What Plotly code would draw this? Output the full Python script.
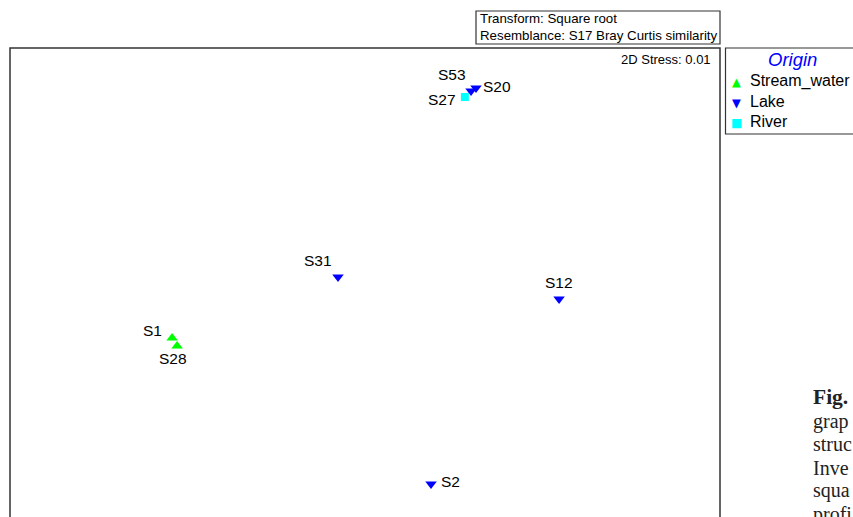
import plotly.graph_objects as go

# NMDS coordinates (arbitrary units)
samples = ["S1", "S28", "S27", "S53", "S20", "S31", "S12", "S2"]
origin = ["Stream_water", "Stream_water", "River", "Lake", "Lake", "Lake", "Lake", "Lake"]
nmds_x = [-0.815, -0.794, 0.422, 0.448, 0.469, -0.114, 0.820, 0.279]
nmds_y = [-0.025, -0.059, 0.993, 1.018, 1.031, 0.233, 0.140, -0.642]
# label offsets in pixels (dx, dy up)
label_dx = [-20, -4, -23, -19, 21, -20, 0, 19]
label_dy = [8, -12, -2, 17, 2, 16, 16, 3]

groups = ["Stream_water", "Lake", "River"]
group_symbol = {"Stream_water": "triangle-up", "Lake": "triangle-down", "River": "square"}
group_glyph = {"Stream_water": "▲", "Lake": "▼", "River": "■"}
group_color = {"Stream_water": "#00FF00", "Lake": "#0000FF", "River": "#00FFFF"}
group_size = {"Stream_water": 10, "Lake": 10, "River": 8}

caption_lines = ["<b>Fig.</b>", "grap", "struc", "Inve", "squa", "profi"]

W, H = 853, 517
ML, MR, MT, MB = 10, 133, 48, 0
PW, PH = W - ML - MR, H - MT - MB

def px(xp):
    return (xp - ML) / PW

def py(yp):
    return (H - MB - yp) / PH

FONT = "Liberation Sans, Arial, sans-serif"

fig = go.Figure()
for g in groups:
    idx = [i for i, o in enumerate(origin) if o == g]
    fig.add_trace(go.Scatter(
        x=[nmds_x[i] for i in idx], y=[nmds_y[i] for i in idx],
        mode="markers", name=g,
        marker=dict(symbol=group_symbol[g], color=group_color[g], size=group_size[g],
                    line=dict(width=0)),
        cliponaxis=False,
    ))

annotations = []
for s, x, y, dx, dy in zip(samples, nmds_x, nmds_y, label_dx, label_dy):
    annotations.append(dict(x=x, y=y, xref="x", yref="y", text=s, showarrow=False,
                            xshift=dx, yshift=dy, font=dict(family=FONT, size=15.5, color="black")))

annotations.append(dict(x=px(713), y=py(60), xref="paper", yref="paper", text="2D Stress: 0.01",
                        showarrow=False, xanchor="right", yanchor="middle",
                        font=dict(family=FONT, size=13, color="black")))
annotations.append(dict(x=px(478), y=py(18.5), xref="paper", yref="paper", text="Transform: Square root",
                        showarrow=False, xanchor="left", yanchor="middle",
                        font=dict(family=FONT, size=13.3, color="black")))
annotations.append(dict(x=px(478), y=py(35), xref="paper", yref="paper",
                        text="Resemblance: S17 Bray Curtis similarity",
                        showarrow=False, xanchor="left", yanchor="middle",
                        font=dict(family=FONT, size=13.3, color="black")))

# manual legend
annotations.append(dict(x=px(792), y=py(60), xref="paper", yref="paper", text="<i>Origin</i>",
                        showarrow=False, xanchor="center", yanchor="middle",
                        font=dict(family=FONT, size=18.5, color="#0000FF")))
leg_y = [81, 101.5, 122]
for g, yy in zip(groups, leg_y):
    annotations.append(dict(x=px(736), y=py(yy + 1), xref="paper", yref="paper", text=group_glyph[g],
                            showarrow=False, xanchor="center", yanchor="middle",
                            font=dict(family="DejaVu Sans", size=11.5 if g != "River" else 12,
                                      color=group_color[g])))
    annotations.append(dict(x=px(748), y=py(yy), xref="paper", yref="paper", text=g,
                            showarrow=False, xanchor="left", yanchor="middle",
                            font=dict(family=FONT, size=16, color="black")))

cap_font = dict(family="Liberation Serif, Times New Roman, serif", size=20, color="#222222")
for k, t in enumerate(caption_lines):
    yy = 397 if k == 0 else 421 + 23.3 * (k - 1)
    f = dict(cap_font, size=21.5) if k == 0 else cap_font
    annotations.append(dict(x=px(811), y=py(yy), xref="paper", yref="paper", text=t,
                            showarrow=False, xanchor="left", yanchor="middle", font=f))

shapes = [
    # plot frame (bottom beyond the page)
    dict(type="rect", xref="paper", yref="paper", x0=0, x1=1, y0=-0.2, y1=1,
         line=dict(color="#333333", width=1.5)),
    # transform box
    dict(type="rect", xref="paper", yref="paper", x0=px(476), x1=px(720), y0=py(44), y1=py(11),
         line=dict(color="#333333", width=1.2)),
    # legend box (right edge beyond the page)
    dict(type="rect", xref="paper", yref="paper", x0=px(725.5), x1=px(870), y0=py(134), y1=py(48),
         line=dict(color="#333333", width=1.2)),
]

fig.update_layout(
    width=W, height=H,
    margin=dict(l=ML, r=MR, t=MT, b=MB, autoexpand=False),
    paper_bgcolor="white", plot_bgcolor="white",
    xaxis=dict(range=[-1.5, 1.5], visible=False, fixedrange=True),
    yaxis=dict(range=[-0.781, 1.2], visible=False, fixedrange=True),
    showlegend=False,
    annotations=annotations,
    shapes=shapes,
)

fig.write_html("out.html")
